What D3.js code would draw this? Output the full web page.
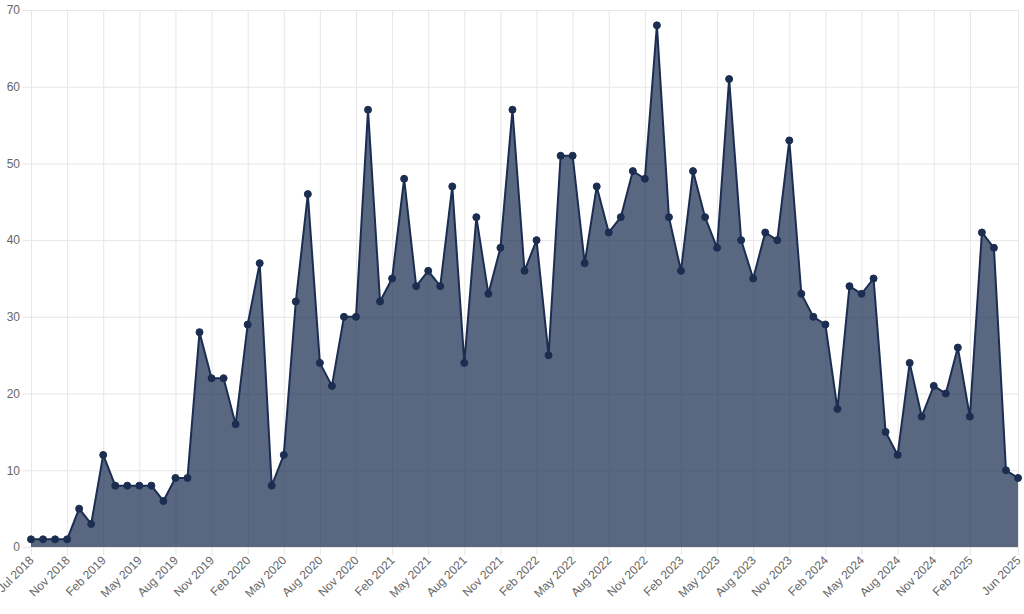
<!DOCTYPE html>
<html>
<head>
<meta charset="utf-8">
<script src="https://cdn.jsdelivr.net/npm/d3@7"></script>
<style>
  html, body { margin: 0; padding: 0; background: #fff; }
  svg { display: block; }
  .tick text { font-family: "Liberation Sans", Arial, sans-serif; font-size: 12px; fill: #666; }
</style>
</head>
<body>
<svg id="chart" width="1024" height="614"></svg>
<script>
const monthLabels = [
  "Jul 2018","Aug 2018","Sep 2018",
  "Nov 2018","Dec 2018",
  "Jan 2019","Feb 2019","Mar 2019","Apr 2019","May 2019","Jun 2019","Jul 2019","Aug 2019","Sep 2019","Oct 2019","Nov 2019","Dec 2019",
  "Jan 2020","Feb 2020","Mar 2020","Apr 2020","May 2020","Jun 2020","Jul 2020","Aug 2020","Sep 2020","Oct 2020","Nov 2020","Dec 2020",
  "Jan 2021","Feb 2021","Mar 2021","Apr 2021","May 2021","Jun 2021","Jul 2021","Aug 2021","Sep 2021","Oct 2021","Nov 2021","Dec 2021",
  "Jan 2022","Feb 2022","Mar 2022","Apr 2022","May 2022","Jun 2022","Jul 2022","Aug 2022","Sep 2022","Oct 2022","Nov 2022","Dec 2022",
  "Jan 2023","Feb 2023","Mar 2023","Apr 2023","May 2023","Jun 2023","Jul 2023","Aug 2023","Sep 2023","Oct 2023","Nov 2023","Dec 2023",
  "Jan 2024","Feb 2024","Mar 2024","Apr 2024","May 2024","Jun 2024","Jul 2024","Aug 2024","Sep 2024","Oct 2024","Nov 2024","Dec 2024",
  "Jan 2025","Feb 2025","Mar 2025","Apr 2025","May 2025","Jun 2025"
];
const counts = [
  1,1,1,1,5,3,12,8,8,8,8,6,9,9,28,22,22,16,29,37,
  8,12,32,46,24,21,30,30,57,32,35,48,34,36,34,47,24,43,33,39,
  57,36,40,25,51,51,37,47,41,43,49,48,68,43,36,49,43,39,61,40,
  35,41,40,53,33,30,29,18,34,33,35,15,12,24,17,21,20,26,17,41,39,10,9
];
const shownTicks = ["Jul 2018","Nov 2018","Feb 2019","May 2019","Aug 2019","Nov 2019","Feb 2020","May 2020","Aug 2020","Nov 2020","Feb 2021","May 2021","Aug 2021","Nov 2021","Feb 2022","May 2022","Aug 2022","Nov 2022","Feb 2023","May 2023","Aug 2023","Nov 2023","Feb 2024","May 2024","Aug 2024","Nov 2024","Feb 2025","Jun 2025"];
const yTicks = [0,10,20,30,40,50,60,70];

const data = monthLabels.map((m, i) => ({ m, v: counts[i] }));

const svg = d3.select("#chart");
const mLeft = 31, mRight = 1018, mTop = 10, mBottom = 547;

const x = d3.scalePoint().domain(monthLabels).range([mLeft, mRight]);
const y = d3.scaleLinear().domain([0, 70]).range([mBottom, mTop]);

// horizontal grid + y axis
const yAxis = svg.append("g")
  .attr("transform", `translate(${mLeft},0)`)
  .call(d3.axisLeft(y).tickValues(yTicks).tickSize(-(mRight - mLeft)).tickPadding(10).tickFormat(d3.format("d")));
yAxis.select(".domain").remove();
yAxis.selectAll(".tick line").attr("stroke", "#e6e6e6").attr("x1", -8);
yAxis.selectAll(".tick text").attr("x", -11);

// vertical grid + x axis
const xAxis = svg.append("g")
  .attr("transform", `translate(0,${mBottom})`)
  .call(d3.axisBottom(x).tickValues(shownTicks).tickSize(-(mBottom - mTop)).tickPadding(0));
xAxis.select(".domain").remove();
xAxis.selectAll(".tick line").attr("stroke", "#e6e6e6").attr("y1", 8);
xAxis.selectAll(".tick text")
  .attr("text-anchor", "end")
  .attr("dy", null)
  .attr("y", 0)
  .attr("transform", "translate(3,14) rotate(-45)");

// area
const area = d3.area()
  .x(d => x(d.m))
  .y0(y(0))
  .y1(d => y(d.v));
svg.append("path")
  .datum(data)
  .attr("d", area)
  .attr("fill", "rgba(27,45,80,0.72)");

// line
const line = d3.line().x(d => x(d.m)).y(d => y(d.v));
svg.append("path")
  .datum(data)
  .attr("d", line)
  .attr("fill", "none")
  .attr("stroke", "#1b2d50")
  .attr("stroke-width", 2)
  .attr("stroke-linejoin", "round");

// points
svg.append("g").selectAll("circle")
  .data(data)
  .join("circle")
  .attr("cx", d => x(d.m))
  .attr("cy", d => y(d.v))
  .attr("r", 3.5)
  .attr("fill", "#1b2d50")
  .attr("stroke", "#1b2d50")
  .attr("stroke-width", 1);
</script>
</body>
</html>
